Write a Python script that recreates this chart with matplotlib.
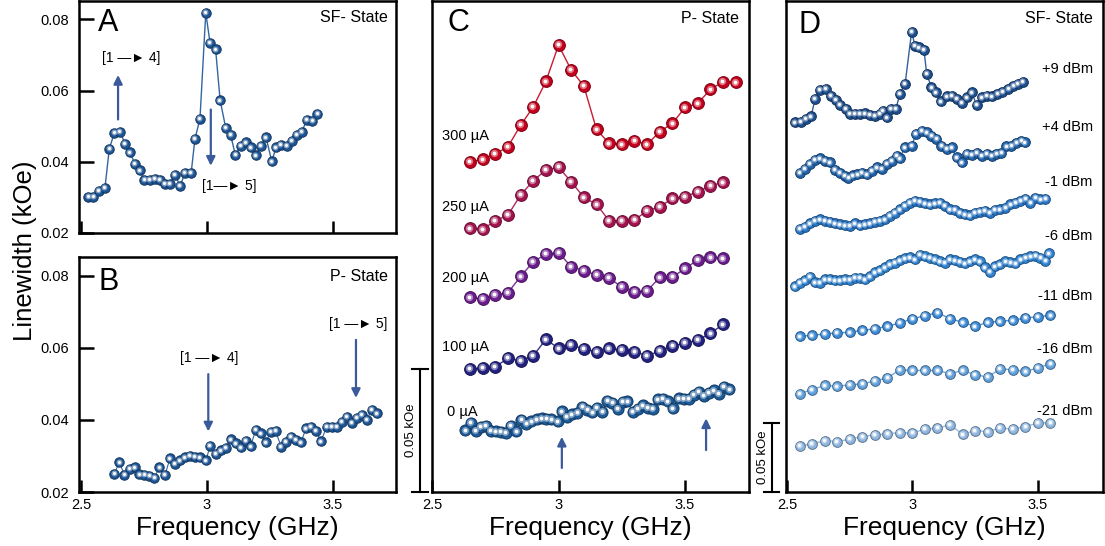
import matplotlib
matplotlib.use('Agg')
import matplotlib.pyplot as plt
from matplotlib.transforms import offset_copy, blended_transform_factory
from matplotlib.colors import to_rgb

plt.rcParams['font.family'] = ['Liberation Sans', 'DejaVu Sans']

# ---- panel A : SF state, linewidth vs frequency
a_freq = [2.529, 2.549, 2.571, 2.595, 2.612, 2.632, 2.655, 2.675, 2.694, 2.714,
          2.734, 2.751, 2.774, 2.794, 2.813, 2.833, 2.853, 2.873, 2.893, 2.913,
          2.937, 2.952, 2.972, 2.995, 3.012, 3.034, 3.052, 3.074, 3.094, 3.112,
          3.134, 3.155, 3.173, 3.193, 3.214, 3.234, 3.257, 3.274, 3.294, 3.316,
          3.336, 3.356, 3.376, 3.396, 3.418, 3.438]
a_lw = [0.0302, 0.0302, 0.0318, 0.0327, 0.0436, 0.0481, 0.0485, 0.0450, 0.0427, 0.0394,
        0.0376, 0.0350, 0.0350, 0.0353, 0.0350, 0.0339, 0.0339, 0.0364, 0.0332, 0.0369,
        0.0369, 0.0464, 0.0521, 0.0819, 0.0734, 0.0716, 0.0573, 0.0496, 0.0475, 0.0420,
        0.0445, 0.0455, 0.0441, 0.0418, 0.0445, 0.0469, 0.0401, 0.0441, 0.0448, 0.0445,
        0.0459, 0.0475, 0.0484, 0.0518, 0.0515, 0.0535]

# ---- panel B : P state (also the 0 uA trace in C)
b_freq = [2.632, 2.652, 2.672, 2.694, 2.714, 2.731, 2.751, 2.771, 2.791, 2.811,
          2.833, 2.853, 2.873, 2.893, 2.913, 2.933, 2.952, 2.972, 2.996, 3.012,
          3.034, 3.054, 3.074, 3.094, 3.114, 3.134, 3.153, 3.173, 3.193, 3.213,
          3.233, 3.253, 3.272, 3.294, 3.313, 3.333, 3.353, 3.373, 3.393, 3.413,
          3.433, 3.452, 3.475, 3.495, 3.515, 3.534, 3.554, 3.574, 3.594, 3.614,
          3.634, 3.653, 3.675]
b_lw = [0.0251, 0.0282, 0.0248, 0.0265, 0.0268, 0.0249, 0.0247, 0.0245, 0.0240, 0.0268,
        0.0247, 0.0293, 0.0279, 0.0288, 0.0296, 0.0300, 0.0298, 0.0296, 0.0288, 0.0328,
        0.0305, 0.0316, 0.0323, 0.0346, 0.0335, 0.0324, 0.0342, 0.0327, 0.0372, 0.0363,
        0.0338, 0.0367, 0.0369, 0.0326, 0.0340, 0.0353, 0.0344, 0.0338, 0.0377, 0.0380,
        0.0369, 0.0341, 0.0381, 0.0380, 0.0380, 0.0395, 0.0409, 0.0391, 0.0405, 0.0414,
        0.0400, 0.0428, 0.0418]

# ---- panel C : P state with current
c_freq = [2.65, 2.70, 2.75, 2.80, 2.85, 2.90, 2.95, 3.00, 3.05, 3.10, 3.15,
          3.20, 3.25, 3.30, 3.35, 3.40, 3.45, 3.50, 3.55, 3.60, 3.65]
c_freq300 = c_freq + [3.70]
c300 = [0.0345, 0.0355, 0.0377, 0.0407, 0.0494, 0.0569, 0.0673, 0.0821, 0.0719, 0.0654, 0.0477,
        0.0420, 0.0416, 0.0430, 0.0416, 0.0468, 0.0502, 0.0567, 0.0583, 0.0640, 0.0671, 0.0669]
c250 = [0.0324, 0.0320, 0.0355, 0.0378, 0.0460, 0.0518, 0.0562, 0.0573, 0.0514, 0.0450, 0.0422,
        0.0355, 0.0355, 0.0358, 0.0396, 0.0412, 0.0446, 0.0453, 0.0473, 0.0498, 0.0511]
c200 = [0.0293, 0.0285, 0.0302, 0.0312, 0.0378, 0.0438, 0.0469, 0.0475, 0.0418, 0.0402, 0.0384,
        0.0373, 0.0334, 0.0316, 0.0320, 0.0374, 0.0375, 0.0411, 0.0445, 0.0456, 0.0452]
c100 = [0.0251, 0.0254, 0.0260, 0.0295, 0.0284, 0.0305, 0.0372, 0.0335, 0.0349, 0.0333, 0.0322,
        0.0335, 0.0328, 0.0322, 0.0305, 0.0324, 0.0345, 0.0356, 0.0369, 0.0396, 0.0433]
c_labels = ['300 \u00b5A', '250 \u00b5A', '200 \u00b5A', '100 \u00b5A', '0 \u00b5A']
c_offsets = [0.10, 0.075, 0.05, 0.025, 0.0]
c_colors = ['#c4001c', '#a3124e', '#6b1c8c', '#23217f', '#1d5a98']

# ---- panel D : SF state with rf power
d9_freq = [2.532, 2.555, 2.576, 2.596, 2.612, 2.631, 2.655, 2.675, 2.695, 2.711,
           2.735, 2.751, 2.771, 2.791, 2.811, 2.831, 2.851, 2.871, 2.881, 2.897,
           2.914, 2.934, 2.950, 2.971, 2.997, 3.010, 3.027, 3.046, 3.057, 3.076,
           3.094, 3.114, 3.136, 3.156, 3.176, 3.196, 3.216, 3.236, 3.256, 3.276,
           3.298, 3.318, 3.339, 3.359, 3.382, 3.402, 3.421, 3.441]
d9 = [0.0273, 0.0278, 0.0297, 0.0316, 0.0442, 0.0509, 0.0515, 0.0466, 0.0435, 0.0399,
      0.0370, 0.0333, 0.0333, 0.0333, 0.0338, 0.0326, 0.0321, 0.0333, 0.0357, 0.0309,
      0.0370, 0.0370, 0.0478, 0.0551, 0.0930, 0.0828, 0.0816, 0.0799, 0.0623, 0.0527,
      0.0491, 0.0425, 0.0461, 0.0466, 0.0442, 0.0413, 0.0454, 0.0491, 0.0399, 0.0454,
      0.0466, 0.0461, 0.0478, 0.0495, 0.0515, 0.0539, 0.0551, 0.0567]
d4_freq = [2.552, 2.572, 2.592, 2.612, 2.631, 2.651, 2.671, 2.691, 2.711, 2.731,
           2.744, 2.762, 2.780, 2.798, 2.818, 2.837, 2.857, 2.877, 2.897, 2.917,
           2.937, 2.950, 2.970, 2.997, 3.014, 3.037, 3.057, 3.076, 3.096, 3.116,
           3.136, 3.156, 3.176, 3.196, 3.216, 3.236, 3.256, 3.276, 3.296, 3.316,
           3.335, 3.355, 3.375, 3.395, 3.415, 3.435, 3.448]
d4 = [0.0310, 0.0335, 0.0371, 0.0402, 0.0412, 0.0395, 0.0383, 0.0330, 0.0310, 0.0286,
      0.0274, 0.0291, 0.0298, 0.0310, 0.0298, 0.0322, 0.0347, 0.0335, 0.0371, 0.0395,
      0.0431, 0.0412, 0.0492, 0.0503, 0.0588, 0.0612, 0.0600, 0.0576, 0.0552, 0.0503,
      0.0480, 0.0492, 0.0419, 0.0383, 0.0443, 0.0436, 0.0451, 0.0431, 0.0443, 0.0431,
      0.0443, 0.0455, 0.0499, 0.0503, 0.0523, 0.0540, 0.0528]
dm1_freq = [2.55, 2.57, 2.59, 2.61, 2.63, 2.65, 2.67, 2.69, 2.71, 2.73,
            2.75, 2.77, 2.79, 2.81, 2.83, 2.85, 2.87, 2.89, 2.91, 2.93,
            2.95, 2.97, 2.99, 3.01, 3.03, 3.05, 3.07, 3.09, 3.11, 3.13,
            3.15, 3.17, 3.19, 3.21, 3.23, 3.25, 3.27, 3.29, 3.31, 3.33,
            3.35, 3.37, 3.39, 3.41, 3.43, 3.45, 3.47, 3.49, 3.51, 3.53]
dm1 = [0.0304, 0.0319, 0.0343, 0.0360, 0.0372, 0.0360, 0.0353, 0.0343, 0.0336, 0.0329,
       0.0324, 0.0343, 0.0329, 0.0336, 0.0343, 0.0353, 0.0360, 0.0372, 0.0396, 0.0420,
       0.0445, 0.0468, 0.0493, 0.0505, 0.0497, 0.0488, 0.0481, 0.0488, 0.0493, 0.0468,
       0.0445, 0.0439, 0.0420, 0.0408, 0.0401, 0.0420, 0.0425, 0.0432, 0.0420, 0.0439,
       0.0445, 0.0457, 0.0481, 0.0493, 0.0505, 0.0522, 0.0493, 0.0529, 0.0517, 0.0522]
dm6_freq = [2.53, 2.55, 2.57, 2.59, 2.61, 2.63, 2.65, 2.67, 2.69, 2.71,
            2.73, 2.75, 2.77, 2.79, 2.81, 2.83, 2.85, 2.87, 2.89, 2.91,
            2.93, 2.95, 2.97, 2.99, 3.01, 3.03, 3.05, 3.07, 3.09, 3.11,
            3.13, 3.15, 3.17, 3.19, 3.21, 3.23, 3.25, 3.27, 3.29, 3.31,
            3.33, 3.35, 3.37, 3.39, 3.41, 3.43, 3.45, 3.47, 3.49, 3.51,
            3.53, 3.545]
dm6 = [0.0288, 0.0313, 0.0330, 0.0357, 0.0317, 0.0313, 0.0337, 0.0337, 0.0330, 0.0330,
       0.0337, 0.0333, 0.0349, 0.0349, 0.0337, 0.0359, 0.0388, 0.0402, 0.0424, 0.0446,
       0.0458, 0.0475, 0.0489, 0.0497, 0.0482, 0.0515, 0.0504, 0.0494, 0.0482, 0.0468,
       0.0458, 0.0482, 0.0475, 0.0462, 0.0453, 0.0468, 0.0482, 0.0468, 0.0424, 0.0390,
       0.0433, 0.0446, 0.0468, 0.0460, 0.0453, 0.0482, 0.0494, 0.0504, 0.0506, 0.0494,
       0.0470, 0.0526]
d_freq = [2.55, 2.60, 2.65, 2.70, 2.75, 2.80, 2.85, 2.90, 2.95, 3.00, 3.05,
          3.10, 3.15, 3.20, 3.25, 3.30, 3.35, 3.40, 3.45, 3.50, 3.55]
dm11 = [0.0326, 0.0333, 0.0343, 0.0351, 0.0355, 0.0369, 0.0380, 0.0398, 0.0423, 0.0452, 0.0476,
        0.0496, 0.0454, 0.0427, 0.0398, 0.0427, 0.0435, 0.0442, 0.0459, 0.0467, 0.0478]
dm16 = [0.0311, 0.0340, 0.0371, 0.0363, 0.0376, 0.0381, 0.0405, 0.0424, 0.0485, 0.0479, 0.0479,
        0.0479, 0.0456, 0.0479, 0.0448, 0.0432, 0.0490, 0.0485, 0.0472, 0.0497, 0.0528]
dm21 = [0.0334, 0.0348, 0.0372, 0.0365, 0.0382, 0.0401, 0.0413, 0.0421, 0.0430, 0.0426, 0.0455,
        0.0462, 0.0486, 0.0418, 0.0444, 0.0437, 0.0462, 0.0455, 0.0473, 0.0498, 0.0502]
d_labels = ['+9 dBm', '+4 dBm', '-1 dBm', '-6 dBm', '-11 dBm', '-16 dBm', '-21 dBm']
d_label_y = [0.306, 0.264, 0.224, 0.185, 0.1416, 0.1035, 0.0589]
d_offsets = [0.24, 0.20, 0.16, 0.12, 0.08, 0.04, 0.0]
d_colors = ['#1d4f8e', '#2162a9', '#2a77c6', '#3082d0', '#3d8ad6', '#62a0da', '#8db5de']

arrow_col = '#3b5a9c'
ab_col = '#1c5494'

fig = plt.figure(figsize=(11.05, 5.46), dpi=100)
axA = fig.add_axes([0.0715, 0.5733, 0.2869, 0.4249])
axB = fig.add_axes([0.0715, 0.0989, 0.2869, 0.4304])
axC = fig.add_axes([0.391, 0.0989, 0.2869, 0.8991])
axD = fig.add_axes([0.7113, 0.0989, 0.2869, 0.8991])


def mix(col, f):
    r, g, b = to_rgb(col)
    if f >= 0:
        return (r + (1 - r) * f, g + (1 - g) * f, b + (1 - b) * f)
    return (r * (1 + f), g * (1 + f), b * (1 + f))


def beads(ax, x, y, col, ms, lw=1.0):
    # line + shaded spheres
    ax.plot(x, y, '-', color=mix(col, 0.1), lw=lw, zorder=2)
    ax.plot(x, y, 'o', ms=ms, mfc=col, mec=mix(col, -0.35), mew=0.7, ls='none', zorder=3)
    hl = offset_copy(ax.transData, fig=fig, x=-ms * 0.07, y=ms * 0.07, units='points')
    ax.plot(x, y, 'o', ms=ms * 0.62, mfc=mix(col, 0.45), mec='none', ls='none',
            transform=hl, zorder=4)
    ax.plot(x, y, 'o', ms=ms * 0.32, mfc='white', mec='none', ls='none',
            transform=hl, zorder=5)


def arrow(ax, x, y0, y1):
    ax.annotate('', xy=(x, y1), xytext=(x, y0),
                arrowprops=dict(arrowstyle='-|>', color=arrow_col, lw=1.6,
                                mutation_scale=13, shrinkA=0, shrinkB=0))


def scalebar(ax, xa, cap, tx):
    tr = blended_transform_factory(ax.transAxes, ax.transData)
    ax.plot([xa, xa], [0, 0.05], color='k', lw=1.5, transform=tr, clip_on=False)
    for yy in (0, 0.05):
        ax.plot([xa - cap, xa + cap], [yy, yy], color='k', lw=1.5,
                transform=tr, clip_on=False)
    ax.text(tx, 0.025, '0.05 kOe', rotation=90, transform=tr, ha='center',
            va='center', fontsize=9.5)


for ax in (axA, axB, axC, axD):
    for s in ax.spines.values():
        s.set_linewidth(1.8)
    ax.tick_params(axis='x', direction='in', length=9, width=1.8, labelsize=10.5, pad=4)
    ax.set_xticks([2.5, 3, 3.5])
    ax.set_xticklabels(['2.5', '3', '3.5'])

for ax in (axA, axB):
    ax.set_xlim(2.492, 3.75)
    ax.set_ylim(0.02, 0.0852)
    ax.set_yticks([0.02, 0.04, 0.06, 0.08])
    ax.set_yticklabels(['0.02', '0.04', '0.06', '0.08'])
    ax.tick_params(axis='y', direction='in', length=11, width=1.8, labelsize=10.5, pad=7)

axA.tick_params(axis='x', labelbottom=False)

# A
beads(axA, a_freq, a_lw, ab_col, 6.8)
axA.text(0.06, 0.905, 'A', transform=axA.transAxes, fontsize=22, va='center')
axA.text(0.975, 0.927, 'SF- State', transform=axA.transAxes, fontsize=11.5,
         ha='right', va='center')
arrow(axA, 2.647, 0.0519, 0.0644)
arrow(axA, 3.015, 0.0547, 0.0389)
axA.text(2.698, 0.0692, '[1 \u2014\u25ba 4]', fontsize=10, ha='center', va='center')
axA.text(3.09, 0.0331, '[1\u2014\u25ba 5]', fontsize=10, ha='center', va='center')

# B
beads(axB, b_freq, b_lw, ab_col, 6.8, lw=0.8)
axB.text(0.06, 0.895, 'B', transform=axB.transAxes, fontsize=22, va='center')
axB.text(0.975, 0.916, 'P- State', transform=axB.transAxes, fontsize=11.5,
         ha='right', va='center')
arrow(axB, 3.005, 0.0527, 0.0368)
arrow(axB, 3.591, 0.0622, 0.0461)
axB.text(3.009, 0.0573, '[1 \u2014\u25ba 4]', fontsize=10, ha='center', va='center')
axB.text(3.600, 0.0666, '[1 \u2014\u25ba 5]', fontsize=10, ha='center', va='center')
axB.set_xlabel('Frequency (GHz)', fontsize=19, labelpad=3)

# C
axC.set_xlim(2.5, 3.753)
axC.set_ylim(0, 0.2)
axC.set_yticks([])
c_traces = [(c_freq300, c300), (c_freq, c250), (c_freq, c200), (c_freq, c100), (b_freq, b_lw)]
for (fx, fy), off, col in zip(c_traces, c_offsets, c_colors):
    beads(axC, fx, [v + off for v in fy], col, 8.5 if fx is not b_freq else 8.0)
c_label_y = [0.145, 0.116, 0.087, 0.059, 0.0327]
c_label_x = [2.54, 2.54, 2.54, 2.54, 2.56]
for lab, lx, ly in zip(c_labels, c_label_x, c_label_y):
    axC.text(lx, ly, lab, fontsize=10.5, va='center', ha='left')
arrow(axC, 3.013, 0.0098, 0.0225)
arrow(axC, 3.583, 0.0171, 0.0300)
axC.text(0.05, 0.955, 'C', transform=axC.transAxes, fontsize=22, va='center')
axC.text(0.968, 0.965, 'P- State', transform=axC.transAxes, fontsize=11.5,
         ha='right', va='center')
axC.set_xlabel('Frequency (GHz)', fontsize=19, labelpad=3)
scalebar(axC, -0.038, 0.026, -0.066)

# D
axD.set_xlim(2.496, 3.76)
axD.set_ylim(0, 0.355)
axD.set_yticks([])
d_traces = [(d9_freq, d9), (d4_freq, d4), (dm1_freq, dm1), (dm6_freq, dm6),
            (d_freq, dm11), (d_freq, dm16), (d_freq, dm21)]
for (fx, fy), off, col in zip(d_traces, d_offsets, d_colors):
    beads(axD, fx, [v + off for v in fy], col, 7.0)
for lab, ly in zip(d_labels, d_label_y):
    axD.text(0.968, ly, lab, transform=blended_transform_factory(axD.transAxes, axD.transData),
             fontsize=10.5, ha='right', va='center')
axD.text(0.038, 0.951, 'D', transform=axD.transAxes, fontsize=22, va='center')
axD.text(0.968, 0.965, 'SF- State', transform=axD.transAxes, fontsize=11.5,
         ha='right', va='center')
axD.set_xlabel('Frequency (GHz)', fontsize=19, labelpad=3)
scalebar(axD, -0.045, 0.024, -0.074)

fig.text(0.023, 0.54, 'Linewidth (kOe)', rotation=90, fontsize=18.5,
         ha='center', va='center')

fig.savefig('out.png', dpi=100)
